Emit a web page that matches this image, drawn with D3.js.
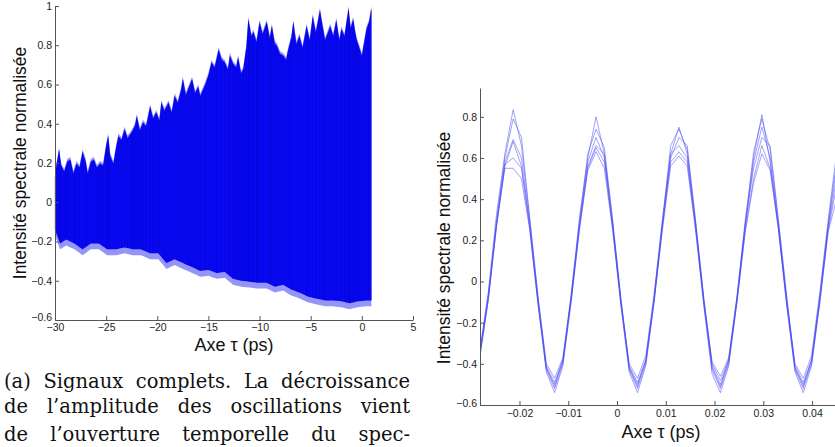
<!DOCTYPE html>
<html><head><meta charset="utf-8">
<script src="https://cdn.jsdelivr.net/npm/d3@7"></script>
<style>body{margin:0;background:#fff}svg{display:block}</style>
</head><body><svg id="c" width="835" height="447"></svg>
<script>
// ---- Left panel: envelope of the full signal
const envTau = [-30.0,-29.8,-29.6,-29.4,-29.1,-28.8,-28.5,-28.2,-27.9,-27.6,-27.3,-27.0,-26.8,-26.5,-26.2,-25.9,-25.6,-25.3,-25.0,-24.8,-24.6,-24.3,-24.0,-23.8,-23.5,-23.2,-22.9,-22.5,-22.2,-22.0,-21.7,-21.4,-21.1,-20.7,-20.4,-20.1,-19.8,-19.6,-19.3,-18.9,-18.6,-18.3,-18.0,-17.7,-17.5,-17.2,-16.9,-16.6,-16.3,-16.0,-15.8,-15.5,-15.3,-15.0,-14.7,-14.4,-14.0,-13.7,-13.4,-13.1,-12.9,-12.6,-12.3,-12.1,-11.8,-11.6,-11.3,-11.1,-10.8,-10.6,-10.3,-10.0,-9.7,-9.3,-9.0,-8.8,-8.5,-8.3,-8.0,-7.7,-7.4,-7.2,-6.9,-6.7,-6.4,-6.1,-5.8,-5.4,-5.1,-4.8,-4.5,-4.1,-3.8,-3.6,-3.3,-3.1,-2.8,-2.5,-2.2,-2.0,-1.7,-1.5,-1.3,-1.1,-0.85,-0.65,-0.5,-0.25,0.0,0.2,0.45,0.7,0.93];
const envUpper = [0.15,0.22,0.28,0.20,0.17,0.22,0.23,0.16,0.21,0.19,0.27,0.22,0.16,0.22,0.23,0.19,0.21,0.20,0.30,0.35,0.25,0.21,0.30,0.35,0.33,0.385,0.34,0.37,0.40,0.45,0.38,0.42,0.40,0.50,0.44,0.47,0.43,0.52,0.48,0.52,0.47,0.555,0.52,0.58,0.64,0.56,0.60,0.64,0.57,0.60,0.555,0.59,0.615,0.66,0.725,0.70,0.79,0.74,0.725,0.69,0.76,0.72,0.70,0.75,0.67,0.69,0.80,0.945,0.86,0.88,0.83,0.93,0.87,0.93,0.85,0.91,0.82,0.81,0.77,0.76,0.74,0.79,0.85,0.93,0.82,0.86,0.80,0.91,0.84,0.96,0.88,0.99,0.90,0.84,0.88,0.91,0.86,0.94,0.84,0.895,0.86,0.93,1.0,0.90,0.945,0.88,0.84,0.80,0.76,0.82,0.895,0.93,1.0];
const lowTau = [-30,-29.5,-28.9,-28.1,-27.3,-26.5,-25.7,-24.9,-24.0,-23.2,-22.4,-21.6,-20.7,-19.9,-19.1,-18.3,-17.5,-16.6,-15.8,-15.0,-14.2,-13.4,-12.6,-11.8,-11.0,-10.2,-9.3,-8.5,-7.7,-6.9,-6.1,-5.3,-4.5,-3.6,-2.8,-2.0,-1.2,-0.4,0.45,0.93];
const envLower = [-0.14,-0.21,-0.19,-0.21,-0.24,-0.21,-0.21,-0.24,-0.24,-0.23,-0.24,-0.24,-0.26,-0.26,-0.31,-0.29,-0.31,-0.33,-0.35,-0.345,-0.36,-0.355,-0.39,-0.40,-0.405,-0.41,-0.41,-0.43,-0.42,-0.445,-0.46,-0.48,-0.49,-0.50,-0.50,-0.505,-0.515,-0.505,-0.50,-0.50];
const leftXTicks = [-30,-25,-20,-15,-10,-5,0,5];
const leftYTicks = [-0.6,-0.4,-0.2,0,0.2,0.4,0.6,0.8,1];

// ---- Right panel: zoom on a few periods, six superposed acquisitions
const tauR = [-0.0281,-0.0264,-0.0247,-0.0230,-0.0213,-0.0196,-0.0179,-0.0162,-0.0145,-0.0128,-0.0111,-0.0094,-0.0077,-0.0060,-0.0043,-0.0026,-0.0009,0.0008,0.0025,0.0042,0.0059,0.0076,0.0093,0.0110,0.0127,0.0144,0.0161,0.0178,0.0195,0.0212,0.0229,0.0246,0.0263,0.0280,0.0297,0.0314,0.0331,0.0348,0.0365,0.0382,0.0399,0.0416,0.0433,0.0450];
const sigA = [-0.33,-0.05,0.33,0.62,0.835,0.66,0.30,-0.08,-0.40,-0.47,-0.37,-0.06,0.31,0.60,0.80,0.62,0.28,-0.10,-0.40,-0.47,-0.36,-0.06,0.30,0.62,0.75,0.62,0.28,-0.09,-0.39,-0.46,-0.37,-0.07,0.30,0.60,0.81,0.58,0.27,-0.10,-0.40,-0.47,-0.36,-0.05,0.30,0.62];
const sigB = [-0.34,-0.07,0.30,0.60,0.79,0.70,0.31,-0.07,-0.41,-0.49,-0.38,-0.07,0.29,0.62,0.74,0.65,0.30,-0.09,-0.41,-0.49,-0.38,-0.08,0.29,0.66,0.74,0.64,0.29,-0.09,-0.40,-0.48,-0.38,-0.08,0.28,0.63,0.79,0.64,0.29,-0.08,-0.41,-0.49,-0.38,-0.07,0.28,0.58];
const sigC = [-0.35,-0.08,0.29,0.58,0.69,0.60,0.28,-0.09,-0.42,-0.50,-0.39,-0.08,0.28,0.58,0.70,0.60,0.27,-0.10,-0.42,-0.50,-0.39,-0.08,0.27,0.60,0.70,0.66,0.30,-0.08,-0.41,-0.50,-0.39,-0.09,0.27,0.58,0.75,0.60,0.26,-0.10,-0.42,-0.50,-0.39,-0.08,0.27,0.55];
const sigD = [-0.34,-0.07,0.28,0.56,0.68,0.56,0.27,-0.10,-0.42,-0.51,-0.38,-0.08,0.27,0.56,0.66,0.62,0.29,-0.08,-0.42,-0.51,-0.38,-0.09,0.28,0.62,0.66,0.60,0.27,-0.10,-0.42,-0.51,-0.38,-0.08,0.28,0.55,0.70,0.66,0.30,-0.07,-0.42,-0.51,-0.38,-0.08,0.26,0.50];
const sigE = [-0.36,-0.09,0.27,0.55,0.55,0.50,0.25,-0.11,-0.43,-0.52,-0.40,-0.09,0.26,0.55,0.65,0.58,0.26,-0.11,-0.43,-0.52,-0.40,-0.10,0.26,0.58,0.63,0.58,0.26,-0.11,-0.43,-0.52,-0.40,-0.10,0.25,0.50,0.66,0.55,0.26,-0.11,-0.43,-0.52,-0.40,-0.10,0.25,0.46];
const sigF = [-0.36,-0.09,0.27,0.57,0.60,0.55,0.26,-0.11,-0.44,-0.54,-0.41,-0.10,0.25,0.54,0.63,0.55,0.25,-0.12,-0.44,-0.54,-0.41,-0.10,0.25,0.56,0.61,0.56,0.25,-0.12,-0.45,-0.54,-0.41,-0.10,0.24,0.48,0.62,0.54,0.25,-0.12,-0.44,-0.54,-0.41,-0.10,0.24,0.40];
const rightXTicks = [-0.02,-0.01,0,0.01,0.02,0.03,0.04];
const rightYTicks = [-0.6,-0.4,-0.2,0,0.2,0.4,0.6,0.8];

const yLabel = "Intensité spectrale normalisée";
const xLabel = "Axe τ (ps)";
const captionLines = ["(a) Signaux complets. La décroissance","de l’amplitude des oscillations vient","de l’ouverture temporelle du spec-"];

const svg = d3.select("#c");
const axisColor = "#555", textColor = "#222";
const tickFont = "Liberation Sans, Arial, sans-serif";
const fmt = v => d3.format("")(v);

function styleAxis(g){
  g.selectAll("path.domain").attr("stroke",axisColor).attr("stroke-width",1);
  g.selectAll(".tick line").attr("stroke",axisColor);
  g.selectAll(".tick text").attr("fill",textColor).style("font-family",tickFont).style("font-size","10.5px");
}

// ===== Left panel
const xL = d3.scaleLinear().domain([-30,5]).range([55,413]);
const yL = d3.scaleLinear().domain([-0.6,1]).range([320,6]);
const gL = svg.append("g");
const upperMap = d3.scaleLinear().domain(envTau).range(envUpper);
const lowerMap = d3.scaleLinear().domain(lowTau).range(envLower);
const bandPts = envTau.concat(lowTau).filter((v,i,a)=>a.indexOf(v)===i).sort((a,b)=>a-b);
// light halo
gL.append("path").datum(bandPts)
  .attr("fill","#7a7af8").attr("opacity",0.8)
  .attr("d",d3.area().x(d=>xL(d)).y0(d=>yL(lowerMap(d)-0.03)).y1(d=>yL(upperMap(d))));
// dense core
gL.append("path").datum(bandPts)
  .attr("fill","#0808f2")
  .attr("d",d3.area().x(d=>xL(d)).y0(d=>yL(lowerMap(d))).y1(d=>yL(upperMap(d)-0.012)));
// vertical texture of oscillations
gL.append("g").selectAll("line").data(bandPts).join("line")
  .attr("x1",d=>xL(d)).attr("x2",d=>xL(d))
  .attr("y1",d=>yL(upperMap(d)-0.02)).attr("y2",d=>yL(lowerMap(d)))
  .attr("stroke","#0000b4").attr("stroke-width",0.6).attr("opacity",0.45);

gL.append("g").attr("transform","translate(0,320)")
  .call(d3.axisBottom(xL).tickValues(leftXTicks).tickFormat(fmt).tickSizeInner(-4).tickSizeOuter(0).tickPadding(4))
  .call(styleAxis);
const axLy = gL.append("g").attr("transform","translate(55,0)")
  .call(d3.axisLeft(yL).tickValues(leftYTicks).tickFormat(fmt).tickSizeInner(-4).tickSizeOuter(0).tickPadding(3))
  .call(styleAxis);
axLy.selectAll(".tick text").filter(d=>d===-0.6).attr("y",-3);
gL.append("text").attr("x",234).attr("y",351).attr("text-anchor","middle")
  .style("font-family",tickFont).style("font-size","18px").attr("fill","#111").text(xLabel);
gL.append("text").attr("transform","translate(26,163) rotate(-90)").attr("text-anchor","middle")
  .style("font-family",tickFont).style("font-size","17.5px").attr("fill","#111").text(yLabel);

// ===== Right panel
const xR = d3.scaleLinear().domain([-0.0281,0.0447]).range([480,835]);
const yR = d3.scaleLinear().domain([-0.6,0.94]).range([405,88]);
const gR = svg.append("g");
gR.append("defs").append("clipPath").attr("id","clipR").append("rect")
  .attr("x",480).attr("y",80).attr("width",355).attr("height",330);
const series = [sigA,sigB,sigC,sigD,sigE,sigF];
const line = d3.line().x((d,i)=>xR(tauR[i])).y(d=>yR(d));
gR.append("g").attr("clip-path","url(#clipR)").selectAll("path").data(series).join("path")
  .attr("d",line).attr("fill","none").attr("stroke","#4646f6").attr("stroke-opacity",0.5).attr("stroke-width",1);

gR.append("g").attr("transform","translate(0,405)")
  .call(d3.axisBottom(xR).tickValues(rightXTicks).tickFormat(fmt).tickSizeInner(-4).tickSizeOuter(0).tickPadding(5))
  .call(styleAxis);
const axRy = gR.append("g").attr("transform","translate(480,0)")
  .call(d3.axisLeft(yR).tickValues(rightYTicks).tickFormat(fmt).tickSizeInner(-4).tickSizeOuter(0).tickPadding(3))
  .call(styleAxis);
axRy.selectAll(".tick text").filter(d=>d===-0.6).attr("y",-2);
gR.append("text").attr("x",661).attr("y",438).attr("text-anchor","middle")
  .style("font-family",tickFont).style("font-size","18px").attr("fill","#111").text(xLabel);
gR.append("text").attr("transform","translate(450,248) rotate(-90)").attr("text-anchor","middle")
  .style("font-family",tickFont).style("font-size","17.5px").attr("fill","#111").text(yLabel);

// ===== Caption (justified word by word)
const capY = [388,413,441];
const capLeft = 4, capWidth = 406;
const cap = svg.append("g").style("font-family","'DejaVu Serif',serif").style("font-size","19.5px").attr("fill","#111");
captionLines.forEach((ln,li)=>{
  const words = ln.split(" ");
  const nodes = words.map(w=>cap.append("text").attr("y",capY[li]).text(w));
  const widths = nodes.map(n=>n.node().getComputedTextLength());
  const gap = (capWidth - d3.sum(widths))/(words.length-1);
  let x = capLeft;
  nodes.forEach((n,i)=>{ n.attr("x",x); x += widths[i]+gap; });
});
</script></body></html>
